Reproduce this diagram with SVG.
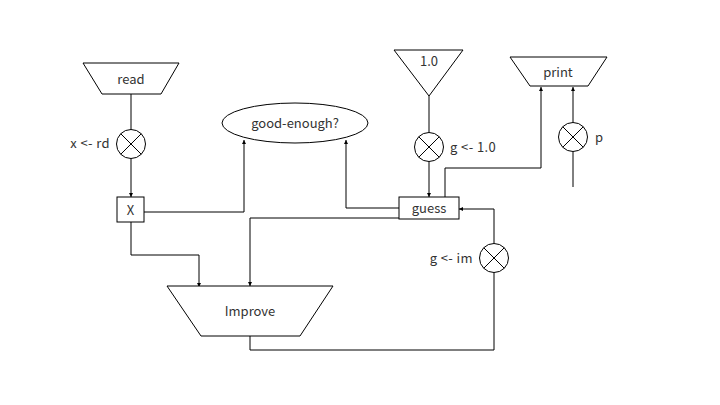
<svg xmlns="http://www.w3.org/2000/svg" width="720" height="405" viewBox="0 0 720 405">
<style>
.s{fill:#fff;stroke:#000;stroke-width:1}
.c{fill:none;stroke:#000;stroke-width:1}
text{font-family:"Noto Sans CJK JP","Noto Sans",sans-serif;font-size:13px;fill:#333;dominant-baseline:central}
.m{text-anchor:middle}
.e{text-anchor:end}
.w{letter-spacing:0.4px}
</style>
<defs>
<marker id="a" viewBox="0 0 6 6" refX="6" refY="3" markerWidth="4" markerHeight="4" orient="auto"><path d="M0,0L6,3L0,6z" fill="#000"/></marker>
<g id="x-sym"><circle r="14.5" class="s"/><path d="M-10.3,-10.3L10.3,10.3M-10.3,10.3L10.3,-10.3" class="c"/></g>
</defs>
<rect width="720" height="405" fill="#fff"/>
<g id="connectors">
<path class="c" d="M131,94V129.5"/>
<path class="c" d="M131,158.5V197" marker-end="url(#a)"/>
<path class="c" d="M144,212H244V140" marker-end="url(#a)"/>
<path class="c" d="M131,222V255H199V287" marker-end="url(#a)"/>
<path class="c" d="M429,96V132.5"/>
<path class="c" d="M429,161.5V197" marker-end="url(#a)"/>
<path class="c" d="M399,208H346V140" marker-end="url(#a)"/>
<path class="c" d="M445,197V168H541V87" marker-end="url(#a)"/>
<path class="c" d="M573,122.5V87" marker-end="url(#a)"/>
<path class="c" d="M573,151.5V187"/>
<path class="c" d="M399,218H250V286" marker-end="url(#a)"/>
<path class="c" d="M250,336V350H494V272.5"/>
<path class="c" d="M494,243.5V209H459" marker-end="url(#a)"/>
</g>
<g id="read"><path class="s" d="M83,63H179L161,94H102Z"/><text class="m" x="131" y="78">read</text></g>
<g id="assign-x"><use href="#x-sym" x="131" y="144"/><text class="e w" x="110" y="142">x &lt;- rd</text></g>
<g id="X"><rect class="s" x="117" y="197" width="27" height="25"/><text class="m" x="130.5" y="209">X</text></g>
<g id="good-enough"><ellipse class="s" cx="295" cy="123" rx="73" ry="20"/><text class="m" x="295" y="122">good-enough?</text></g>
<g id="one"><path class="s" d="M394,50H463L429,96Z"/><text class="m" x="429" y="60">1.0</text></g>
<g id="assign-g1"><use href="#x-sym" x="429" y="147"/><text class="w" x="450" y="146">g &lt;- 1.0</text></g>
<g id="guess"><rect class="s" x="399" y="197" width="60" height="22"/><text class="m" x="429" y="207.5">guess</text></g>
<g id="print"><path class="s" d="M510,57H607L588,86H530Z"/><text class="m" x="558" y="71">print</text></g>
<g id="assign-p"><use href="#x-sym" x="573" y="137"/><text x="595" y="136">p</text></g>
<g id="improve"><path class="s" d="M167,286H333L300,336H201Z"/><text class="m" x="250" y="310">Improve</text></g>
<g id="assign-gim"><use href="#x-sym" x="494" y="258"/><text class="e w" x="473" y="257">g &lt;- im</text></g>
</svg>
